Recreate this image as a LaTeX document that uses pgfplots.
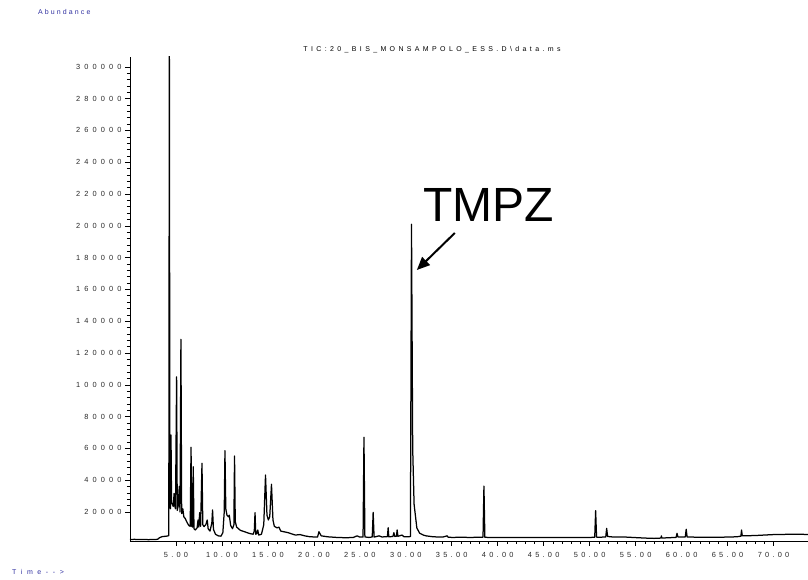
\documentclass[border=0pt]{standalone}
\usepackage{fontspec}
\usepackage{pgfplots}
\pgfplotsset{compat=1.18}
\usetikzlibrary{arrows.meta}
\setmainfont{Liberation Sans}
\newfontfamily\spaced[LetterSpace=48]{Liberation Sans}
\newfontfamily\yspaced[LetterSpace=56]{Liberation Sans}
\newfontfamily\xspaced[LetterSpace=44]{Liberation Sans}
\newfontfamily\lspaced[LetterSpace=30]{Liberation Sans}
\newfontfamily\tspaced[LetterSpace=66]{Liberation Sans}
\definecolor{hpblue}{RGB}{48,48,160}
\definecolor{ticktext}{RGB}{40,40,40}

\begin{document}
\begin{tikzpicture}[x=1pt,y=1pt]
\begin{axis}[
  name=ax, anchor=south west,
  scale only axis, width=678pt, height=484pt,
  xmin=0, xmax=73.75, ymin=1760, ymax=306200,
  axis x line=bottom, axis y line=left,
  axis line style={-, line width=0.8pt, black},
  tick align=outside,
  major tick length=5pt, minor tick length=3pt,
  every tick/.style={black, line width=0.6pt},
  xtick={5,10,15,20,25,30,35,40,45,50,55,60,65,70},
  xticklabels={5.00,10.00,15.00,20.00,25.00,30.00,35.00,40.00,45.00,50.00,55.00,60.00,65.00,70.00},
  ytick={20000,40000,60000,80000,100000,120000,140000,160000,180000,200000,220000,240000,260000,280000,300000},
  yticklabels={20000,40000,60000,80000,100000,120000,140000,160000,180000,200000,220000,240000,260000,280000,300000},
  minor x tick num=4, minor y tick num=4,
  scaled y ticks=false,
  xticklabel style={font=\xspaced\fontsize{7.4}{8}\selectfont, text=ticktext, yshift=-3pt},
  yticklabel style={font=\yspaced\fontsize{7.4}{8}\selectfont, text=ticktext},
  clip=true,
]
% total ion chromatogram: time (min) vs abundance
\addplot[black, line width=1.25pt, line join=round] coordinates {
(0.0,2700) (0.5,2800) (1.0,2650) (1.5,2750) (2.0,2600) (2.5,2700) (3.0,2800)
(3.2,3800) (3.5,4500) (3.8,4700) (4.1,4900) (4.22,5200)
(4.28,320000) (4.34,24000) (4.40,22000) (4.46,68400) (4.52,26000) (4.6,25000)
(4.7,23500) (4.8,31700) (4.86,24000) (4.95,22000) (5.07,105000) (5.14,21000)
(5.25,24000) (5.36,36000) (5.44,20000) (5.54,128600) (5.62,19000) (5.75,22000)
(5.85,17000) (6.0,16000) (6.2,13500) (6.4,11500) (6.55,11000) (6.64,60700)
(6.72,11000) (6.8,10500) (6.88,48500) (6.96,9500) (7.1,8700) (7.3,10000)
(7.4,15000) (7.48,10500) (7.58,19600) (7.68,11000) (7.83,50600) (7.92,12000)
(8.05,10800) (8.25,12000) (8.4,15000) (8.5,9500) (8.7,8000) (8.9,13000)
(8.98,21300) (9.08,9000) (9.3,6000) (9.6,5000) (9.9,4800) (10.1,7000)
(10.25,20000) (10.33,58600) (10.42,22000) (10.55,18000) (10.7,17000) (10.8,18000)
(10.95,11500) (11.15,9500) (11.3,12000) (11.37,55200) (11.45,14000) (11.6,10500)
(12.0,8500) (12.5,7500) (13.0,6500) (13.4,6000) (13.52,8000) (13.6,19600)
(13.68,6000) (13.8,6500) (13.9,8700) (14.0,5500) (14.3,6000) (14.55,12000)
(14.74,43300) (14.9,18000) (15.05,15000) (15.2,17000) (15.39,37400) (15.55,15000)
(15.7,11000) (16.0,10000) (16.2,10500) (16.4,8000) (16.8,7500) (17.2,7000)
(17.6,6200) (18.0,5500) (18.5,5800) (19.0,5000) (19.5,4500) (20.0,4300)
(20.4,4200) (20.55,7600) (20.8,5000) (21.5,4400) (22.5,4000) (23.5,3800)
(24.3,4000) (24.7,5000) (25.0,4200) (25.35,4200) (25.45,67000) (25.55,4300)
(26.0,4000) (26.35,4300) (26.45,19800) (26.55,4200) (27.1,5000) (27.4,4300)
(28.0,4500) (28.08,10100) (28.15,4400) (28.6,4600) (28.7,7000) (28.8,4600)
(28.98,4800) (29.06,8700) (29.14,4700) (29.6,5500) (29.8,4400) (30.4,4500)
(30.5,4600) (30.62,201000) (30.75,60000) (30.9,25000) (31.0,20000) (31.2,10000)
(31.5,6700) (31.9,5500) (32.2,5000) (33.0,4400) (34.0,4200) (34.5,5000)
(34.6,4200) (35.0,4000) (36.0,4100) (37.0,4000) (38.0,4100) (38.4,4200)
(38.5,36300) (38.6,4100) (39.0,4000) (40.0,3900) (42.0,4000) (44.0,3900)
(46.0,4000) (48.0,3900) (50.0,4000) (50.55,4100) (50.65,20800) (50.75,4200)
(51.0,4100) (51.75,4300) (51.85,9700) (51.95,4600) (52.5,4300) (54.0,4200)
(56.0,3600) (57.0,3400) (57.75,3600) (57.8,5000) (57.85,3600) (58.5,3800)
(59.4,4000) (59.5,6600) (59.6,4300) (60.4,4300) (60.5,9100) (60.6,4300)
(62.0,4100) (64.0,4100) (66.0,4400) (66.45,4800) (66.52,8700) (66.6,5000)
(68.0,5200) (70.0,5800) (72.0,6000) (73.75,5900)
};
% peak annotation
\node[font=\fontsize{48}{50}\selectfont, inner sep=0pt] at (axis cs:39.0,213100) {TMPZ};
\draw[line width=2pt, -{Triangle[length=13pt,width=11pt]}]
  (axis cs:35.33,195500) -- (axis cs:31.2,172200);
\end{axis}
% page frame measured from the lower left corner of the plot area
\coordinate (O) at ([shift={(-130pt,-39pt)}]ax.south west);
\begin{scope}[shift={(O)}]
\node[font=\spaced\fontsize{7}{8}\selectfont, text=black] at (432,530)
  {TIC:20\_BIS\_MONSAMPOLO\_ESS.D\textbackslash data.ms};
\node[font=\lspaced\fontsize{7}{8}\selectfont, text=hpblue, anchor=west, inner sep=0pt] at (38,568) {Abundance};
\node[font=\tspaced\fontsize{7}{8}\selectfont, text=hpblue, anchor=west, inner sep=0pt] at (12,8) {Time-->};
\end{scope}
\pgfresetboundingbox
\path[use as bounding box] (O) rectangle ++(808pt,580pt);
\end{tikzpicture}
\end{document}
